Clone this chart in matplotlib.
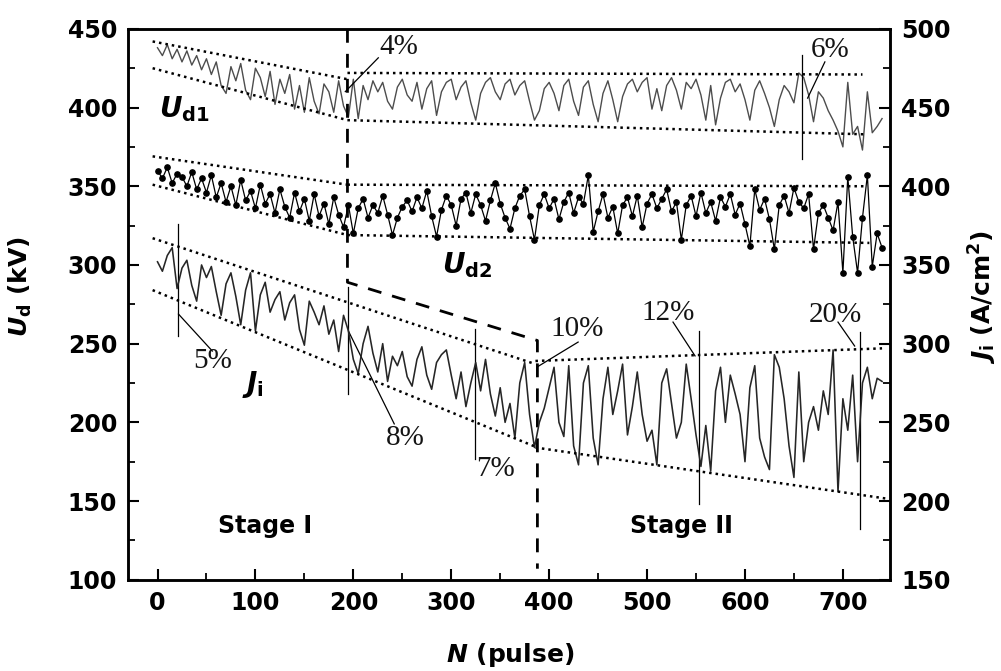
import matplotlib
matplotlib.use('Agg')
import matplotlib.pyplot as plt
from matplotlib.ticker import MultipleLocator

plt.rcParams['font.family'] = ['DejaVu Sans']
plt.rcParams['mathtext.fontset'] = 'custom'
plt.rcParams['mathtext.it'] = 'DejaVu Sans:italic:bold'
plt.rcParams['mathtext.rm'] = 'DejaVu Sans:bold'
plt.rcParams['mathtext.bf'] = 'DejaVu Sans:bold'

# ---------------- data ----------------
pulses = list(range(0, 745, 5))

ud1 = [438, 433, 440, 431, 437, 429, 436, 427, 433, 424,
       431, 421, 429, 414, 409, 426, 417, 428, 411, 405,
       425, 419, 407, 423, 402, 418, 409, 421, 399, 414,
       397, 419, 404, 396, 415, 410, 397, 417, 401, 394,
       418, 393, 414, 405, 417, 410, 416, 404, 399, 413,
       418, 408, 404, 416, 399, 412, 417, 395, 410, 416,
       418, 405, 413, 417, 403, 392, 409, 416, 419, 410,
       405, 415, 418, 408, 414, 417, 404, 392, 398, 412,
       416, 409, 398, 414, 418, 404, 395, 413, 417, 402,
       391, 409, 417, 405, 391, 407, 415, 418, 410, 416,
       419, 399, 412, 398, 414, 419, 411, 399, 416, 412,
       418, 408, 392, 414, 389, 406, 416, 418, 410, 415,
       405, 392, 411, 417, 409, 400, 388, 405, 414, 410,
       403, 422, 419, 408, 391, 410, 406, 398, 392, 385,
       375, 416, 383, 388, 373, 410, 384, 388, 393]

ud2 = [360, 355, 362, 352, 358, 356, 350, 359, 348, 355,
       346, 357, 343, 352, 340, 350, 338, 354, 341, 347,
       336, 351, 339, 345, 333, 348, 337, 330, 346, 334,
       342, 328, 345, 331, 339, 326, 343, 332, 324, 338,
       320, 336, 342, 330, 338, 333, 344, 332, 319, 330,
       337, 341, 334, 343, 336, 347, 331, 318, 335, 344,
       338, 325, 342, 346, 333, 345, 338, 328, 341, 352,
       339, 330, 323, 336, 344, 348, 331, 316, 338, 345,
       336, 342, 329, 340, 346, 333, 343, 339, 357, 321,
       334, 345, 330, 337, 320, 338, 343, 331, 344, 324,
       339, 345, 336, 342, 348, 334, 340, 316, 338, 344,
       331, 346, 333, 340, 328, 343, 337, 345, 332, 339,
       326, 312, 348, 335, 342, 329, 310, 338, 344, 333,
       349, 340, 336, 345, 310, 333, 338, 330, 322, 340,
       295, 356, 318, 295, 330, 357, 299, 320, 311]

ji = [352, 346, 356, 361, 335, 348, 353, 337, 327, 350,
      342, 349, 333, 318, 338, 345, 330, 312, 334, 345,
      308, 331, 339, 320, 328, 333, 315, 326, 331, 309,
      299, 327, 320, 312, 324, 306, 315, 295, 318, 308,
      290, 281, 300, 311, 294, 282, 300, 276, 292, 286,
      295, 279, 273, 290, 298, 280, 271, 288, 293, 296,
      280, 265, 282, 260, 275, 288, 270, 290, 268, 254,
      272, 250, 262, 240, 275, 288, 255, 234, 250, 259,
      272, 285, 250, 241, 286, 235, 223, 275, 286, 240,
      223, 265, 285, 255, 270, 287, 242, 260, 282, 255,
      238, 245, 223, 275, 284, 262, 240, 250, 287, 265,
      242, 222, 248, 219, 270, 285, 250, 280, 268, 255,
      225, 272, 286, 240, 228, 220, 293, 285, 265, 235,
      215, 282, 225, 250, 260, 245, 270, 255, 296, 206,
      265, 245, 280, 225, 275, 285, 265, 278, 276]

# envelope (dotted) segments: (N_start, N_end, v_start, v_end)
ud_envelopes = [(-5, 194, 442, 418), (194, 720, 422, 421),
                (-5, 194, 425, 392), (194, 722, 392, 383),
                (-5, 194, 369, 351), (194, 722, 351, 350),
                (-5, 194, 351, 319), (194, 727, 319, 314)]
ji_envelopes = [(-5, 386, 367, 287), (386, 740, 289, 297),
                (-5, 386, 334, 234.5), (386, 745, 234, 201.5)]

# stage boundary (dashed)
stage_N = [194, 194, 388, 388]
stage_v = [450, 289, 252, 107]

# annotation marks (left-axis units)
vlines = [(658, 367, 433.5), (21.4, 254.8, 325.8), (195, 218, 285.9),
          (324.5, 176.9, 259.3), (553, 148.4, 258), (717, 132.5, 257.4)]
slants = [(191.8, 410.1, 225.5, 431.6), (664, 406, 681.6, 429),
          (21.4, 268.8, 56, 245.3), (195, 258, 241.8, 199),
          (387.8, 235.2, 429.6, 251), (549, 242.2, 526.5, 263.7),
          (712, 248.5, 695, 263.7)]
pct_labels = ['4%', '6%', '5%', '8%', '7%', '10%', '12%', '20%']
pct_N = [246, 687, 56, 253, 345, 429, 521, 692]
pct_v = [438.6, 436.7, 239, 190.2, 170.5, 259.3, 269.4, 268]

# ---------------- figure ----------------
fig = plt.figure(figsize=(10.01, 6.71), dpi=100)
ax = fig.add_axes([0.128, 0.136, 0.761, 0.821])
ax2 = ax.twinx()

ax.plot(pulses, ud1, color='0.3', lw=1.0, zorder=3)
ax.plot(pulses, ud2, color='k', lw=0.9, marker='o', ms=3.8, zorder=3)
ax2.plot(pulses, ji, color='0.15', lw=1.15, zorder=3)

dot = (0, (1, 1.6))
for n0, n1, v0, v1 in ud_envelopes:
    ax.plot([n0, n1], [v0, v1], color='k', lw=1.8, ls=dot, zorder=4)
for n0, n1, v0, v1 in ji_envelopes:
    ax2.plot([n0, n1], [v0, v1], color='k', lw=1.8, ls=dot, zorder=4)

ax.plot(stage_N, stage_v, color='k', lw=2.0, ls=(0, (5, 4)), zorder=5)

for n, lo, hi in vlines:
    ax.plot([n, n], [lo, hi], color='k', lw=0.9, zorder=6)
for n0, v0, n1, v1 in slants:
    ax.plot([n0, n1], [v0, v1], color='k', lw=0.9, zorder=6)
for t, n, v in zip(pct_labels, pct_N, pct_v):
    ax.text(n, v, t, family='Liberation Serif', fontsize=21,
            ha='center', va='center', color='#141414', zorder=7)

ax.text(27.5, 398.7, r'$U_{\mathrm{d1}}$', fontsize=20, ha='center', va='center')
ax.text(316, 299.8, r'$U_{\mathrm{d2}}$', fontsize=20, ha='center', va='center')
ax.text(98, 223.8, r'$J_{\mathrm{i}}$', fontsize=20, ha='center', va='center')
ax.text(110, 134.4, 'Stage I', fontsize=17, fontweight='bold', ha='center', va='center')
ax.text(535, 134.4, 'Stage II', fontsize=17, fontweight='bold', ha='center', va='center')

ax.set_xlim(-30, 748)
ax.set_ylim(100, 450)
ax2.set_ylim(150, 500)

ax.xaxis.set_major_locator(MultipleLocator(100))
ax.xaxis.set_minor_locator(MultipleLocator(50))
ax.yaxis.set_major_locator(MultipleLocator(50))
ax.yaxis.set_minor_locator(MultipleLocator(25))
ax2.yaxis.set_major_locator(MultipleLocator(50))
ax2.yaxis.set_minor_locator(MultipleLocator(25))

for a in (ax, ax2):
    a.tick_params(which='major', direction='in', length=8, width=1.5,
                  labelsize=17, pad=8)
    a.tick_params(which='minor', direction='in', length=5, width=1.3)
    for lab in a.get_xticklabels() + a.get_yticklabels():
        lab.set_fontweight('bold')
    for s in a.spines.values():
        s.set_linewidth(1.8)
ax.tick_params(top=False, right=False, which='both')
ax2.tick_params(top=False, which='both')

fig.text(20 / 1001, 1 - 287 / 671, r'$U_{\mathrm{d}}$ (kV)', rotation=90,
         fontsize=18, fontweight='bold', ha='center', va='center')
fig.text(983 / 1001, 1 - 297 / 671, r'$J_{\mathrm{i}}$ (A/cm$^{\mathrm{2}}$)', rotation=90,
         fontsize=18, fontweight='bold', ha='center', va='center')
fig.text(510 / 1001, 1 - 655 / 671, r'$N$ (pulse)', fontsize=18,
         fontweight='bold', ha='center', va='center')

fig.savefig('out.png', dpi=100)
